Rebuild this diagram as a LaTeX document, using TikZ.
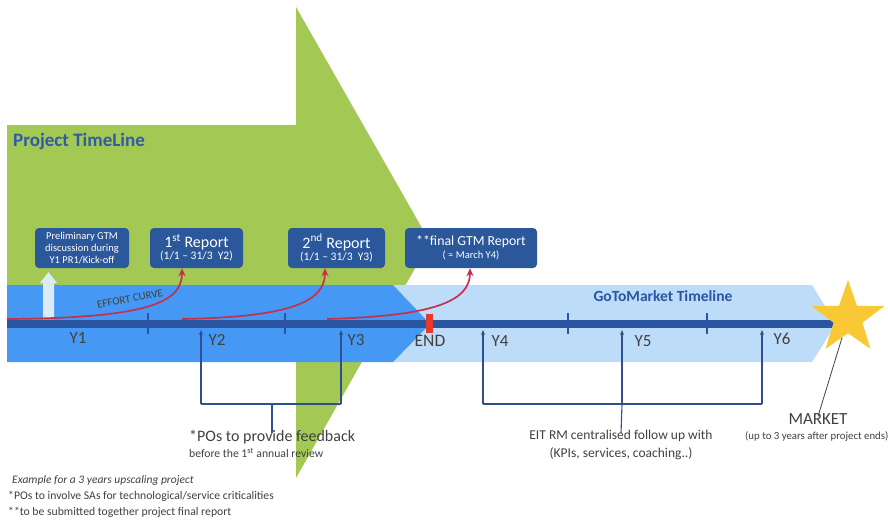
\documentclass[tikz,border=0pt]{standalone}
\usepackage{fontspec}
\setmainfont{Carlito}
\usetikzlibrary{shapes.geometric,arrows.meta}
\definecolor{cgreen}{HTML}{A3C853}
\definecolor{cmblue}{HTML}{4599F4}
\definecolor{clblue}{HTML}{BDDCF9}
\definecolor{cdblue}{HTML}{2A55A0}
\definecolor{cbox}{HTML}{2B579B}
\definecolor{cstar}{HTML}{F8C835}
\definecolor{cend}{HTML}{E8392D}
\definecolor{ccurve}{HTML}{C7304D}
\definecolor{ctext}{HTML}{404040}
\definecolor{cline}{HTML}{2F4F8F}
\definecolor{cup}{HTML}{DDEBF7}
\definecolor{ctitle}{HTML}{2F5BA8}
\tikzset{
  box/.style={fill=cbox, rounded corners=4pt, text=white, align=center, inner sep=0pt},
  tick/.style={draw=cdblue, line width=1.6pt},
  effort/.style={draw=ccurve, line width=1.7pt, -{Stealth[length=8pt,width=7pt]}},
  uparrow/.style={draw=cline, line width=1.1pt, -{Stealth[length=5pt,width=4pt]}},
  bracket/.style={draw=cline, line width=1.1pt},
  ylabel/.style={text=ctext, font=\fontsize{17}{19}\selectfont, inner sep=0pt},
  note/.style={text=ctext, inner sep=0pt, anchor=west},
}
\begin{document}
\begin{tikzpicture}[x=1pt,y=-1pt]
\useasboundingbox (0,0) rectangle (888,519);
% green project arrow
\fill[cgreen] (7,125) -- (296,125) -- (296,7) -- (430,242) -- (296,478) -- (296,360) -- (7,360) -- cycle;
\node[anchor=west, text=ctitle, font=\bfseries\fontsize{19}{21}\selectfont, inner sep=0pt] (ptitle) at (13,141) {Project TimeLine};
% bands
\fill[clblue] (393,285) -- (812,285) -- (836,324) -- (812,362) -- (393,362) -- cycle;
\fill[cmblue] (7,285) -- (393,285) -- (430,324) -- (393,362) -- (7,362) -- cycle;
\node[text=cdblue, font=\bfseries\fontsize{15.5}{17}\selectfont, inner sep=0pt] (gtm) at (663,296) {GoToMarket Timeline};
% light up arrow
\fill[cup] (43,319) -- (43,283) -- (40,283) -- (48.5,272) -- (57,283) -- (54,283) -- (54,319) -- cycle;
% main bar
\fill[cdblue] (7,320) rectangle (836,328);
\foreach \x in {148,285,568,707} \draw[tick] (\x,313) -- (\x,334);
\fill[cend] (426,314) rectangle (433,333);
% boxes
\node[box, minimum width=94pt, minimum height=40pt, font=\fontsize{10.5}{12.3}\selectfont] (b1) at (82,248) {Preliminary GTM\\discussion during\\Y1 PR1/Kick-off};
\node[box, minimum width=93pt, minimum height=40pt] (b2) at (196.5,248) {{\fontsize{16}{17}\selectfont 1\textsuperscript{st} Report}\\[0pt]{\fontsize{11.5}{13}\selectfont (1/1 – 31/3\ \ Y2)}};
\node[box, minimum width=97pt, minimum height=40pt] (b3) at (336.5,248) {{\fontsize{16}{17}\selectfont 2\textsuperscript{nd} Report}\\[0pt]{\fontsize{11.5}{13}\selectfont (1/1 – 31/3\ \ Y3)}};
\node[box, minimum width=132pt, minimum height=40pt] (b4) at (471,248) {{\fontsize{13.8}{15}\selectfont **final GTM Report}\\[1pt]{\fontsize{10.5}{12}\selectfont ( ≈ March Y4)}};
% effort curves
\coordinate (e1s) at (7,319);
\coordinate (e2s) at (182,319);
\coordinate (e3s) at (327,319);
\draw[effort] (e1s) .. controls (150,318) and (182,302) .. ([xshift=-14.5pt]b2.south);
\draw[effort] (e2s) .. controls (290,317) and (325,302) .. ([xshift=-11.5pt]b3.south);
\draw[effort] (e3s) .. controls (432,316) and (470,302) .. ([xshift=-1pt]b4.south);
\node[text=ctext, font=\fontsize{11}{12}\selectfont, rotate=11, inner sep=0pt] (eff) at (130,299) {EFFORT CURVE};
% year labels
\node[ylabel] (y1) at (78,338) {Y1};
\node[ylabel] (y2) at (217,340) {Y2};
\node[ylabel] (y3) at (356,340) {Y3};
\node[ylabel, font=\fontsize{17.5}{19}\selectfont] (yend) at (430,341) {END};
\node[ylabel] (y4) at (500,341) {Y4};
\node[ylabel] (y5) at (643,341) {Y5};
\node[ylabel] (y6) at (782,339) {Y6};
% brackets and arrows
\coordinate (l2) at (201,404); \coordinate (t2) at (201,330);
\coordinate (l3) at (341,404); \coordinate (t3) at (341,330);
\coordinate (lm) at (272,404);
\draw[uparrow] (l2) -- (t2);
\draw[uparrow] (l3) -- (t3);
\draw[bracket] (l2) -- (l3);
\node[note, font=\fontsize{16}{18}\selectfont] (fb) at (189,437) {*POs to provide feedback};
\node[note, font=\fontsize{11.7}{13}\selectfont] (fb2) at (189,453) {before the 1\textsuperscript{st} annual review};
\draw[bracket] (lm) -- ([yshift=-3pt]lm |- fb.north);
\coordinate (l4) at (483,404); \coordinate (t4) at (483,330);
\coordinate (l5) at (622,404); \coordinate (t5) at (622,330);
\coordinate (l6) at (762,404); \coordinate (t6) at (762,330);
\draw[uparrow] (l4) -- (t4);
\draw[uparrow] (l5) -- (t5);
\draw[uparrow] (l6) -- (t6);
\draw[bracket] (l4) -- (l6);
\node[text=ctext, font=\fontsize{13.5}{15}\selectfont, inner sep=0pt] (eit) at (621,436) {EIT RM centralised follow up with};
\node[text=ctext, font=\fontsize{13.5}{15}\selectfont, inner sep=0pt] (eit2) at (621,454) {(KPIs, services, coaching..)};
\draw[bracket] (l5) -- ([yshift=-3pt]eit.north);
% star and market
\node[text=ctext, font=\fontsize{17}{19}\selectfont, inner sep=0pt] (market) at (818,419) {MARKET};
\node[text=ctext, font=\fontsize{10.8}{12}\selectfont, inner sep=0pt, anchor=west] (market2) at (745,436) {(up to 3 years after project ends)};
\node[star, star points=5, star point ratio=2.5, fill=cstar, minimum size=76pt, inner sep=0pt] (star) at (848,318) {};
\draw[draw=ctext, line width=0.8pt] (star) -- ([yshift=-3pt]market.north);
% notes
\node[note, font=\itshape\fontsize{11.5}{13}\selectfont] (n1) at (12,480) {Example for a 3 years upscaling project};
\node[note, font=\fontsize{11.7}{13}\selectfont] (n2) at (8,496) {*POs to involve SAs for technological/service criticalities};
\node[note, font=\fontsize{11.7}{13}\selectfont] (n3) at (8,512) {**to be submitted together project final report};
\end{tikzpicture}
\end{document}
